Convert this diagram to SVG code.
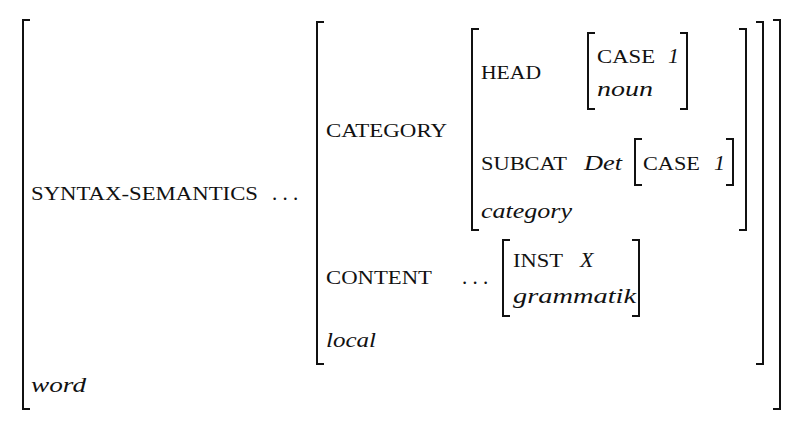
<svg xmlns="http://www.w3.org/2000/svg" width="800" height="431" viewBox="0 0 800 431">
<style>
.b{fill:none;stroke:#111;stroke-width:2}
text{font-family:"Liberation Serif","DejaVu Serif",serif;fill:#111}
.sc{font-size:18px}
.it{font-size:22px;font-style:italic}
.n{font-size:21px}
</style>
<rect width="800" height="431" fill="#fff"/>
<g id="outer">
<path class="b" d="M30,20H23V409H30"/><path class="b" d="M773,20H780V409H773"/>
<text class="sc" x="31" y="200" textLength="227" lengthAdjust="spacingAndGlyphs">SYNTAX-SEMANTICS</text><text class="n" x="272" y="200">. . .</text>
<text class="it" x="31" y="392" textLength="55" lengthAdjust="spacingAndGlyphs">word</text>
</g>
<g id="local">
<path class="b" d="M324,22H317V364H324"/><path class="b" d="M756,22H763V364H756"/>
<text class="sc" x="326" y="137" textLength="121" lengthAdjust="spacingAndGlyphs">CATEGORY</text>
<text class="sc" x="326" y="284" textLength="106" lengthAdjust="spacingAndGlyphs">CONTENT</text><text class="n" x="462" y="284">. . .</text>
<text class="it" x="326" y="347" textLength="50" lengthAdjust="spacingAndGlyphs">local</text>
</g>
<g id="category">
<path class="b" d="M479,29H472V230H479"/><path class="b" d="M739,29H746V230H739"/>
<text class="sc" x="481" y="79" textLength="60" lengthAdjust="spacingAndGlyphs">HEAD</text>
<text class="sc" x="481" y="170" textLength="86" lengthAdjust="spacingAndGlyphs">SUBCAT</text><text class="it" x="584" y="170" textLength="38" lengthAdjust="spacingAndGlyphs">Det</text>
<text class="it" x="481" y="218" textLength="91" lengthAdjust="spacingAndGlyphs">category</text>
</g>
<g id="head">
<path class="b" d="M595,33H588V109H595"/><path class="b" d="M680,33H687V109H680"/>
<text class="sc" x="597" y="63" textLength="58" lengthAdjust="spacingAndGlyphs">CASE</text><text class="it" x="668" y="63">1</text>
<text class="it" x="597" y="96" textLength="56" lengthAdjust="spacingAndGlyphs">noun</text>
</g>
<g id="subcat">
<path class="b" d="M642,139H635V185H642"/><path class="b" d="M726,139H733V185H726"/>
<text class="sc" x="643" y="170" textLength="57" lengthAdjust="spacingAndGlyphs">CASE</text><text class="it" x="714" y="170">1</text>
</g>
<g id="grammatik">
<path class="b" d="M510,240H503V316H510"/><path class="b" d="M632,240H639V316H632"/>
<text class="sc" x="513" y="267" textLength="50" lengthAdjust="spacingAndGlyphs">INST</text><text class="it" x="580" y="267">X</text>
<text class="it" x="513" y="303" textLength="123" lengthAdjust="spacingAndGlyphs">grammatik</text>
</g>
<g id="connectors"/>
</svg>
